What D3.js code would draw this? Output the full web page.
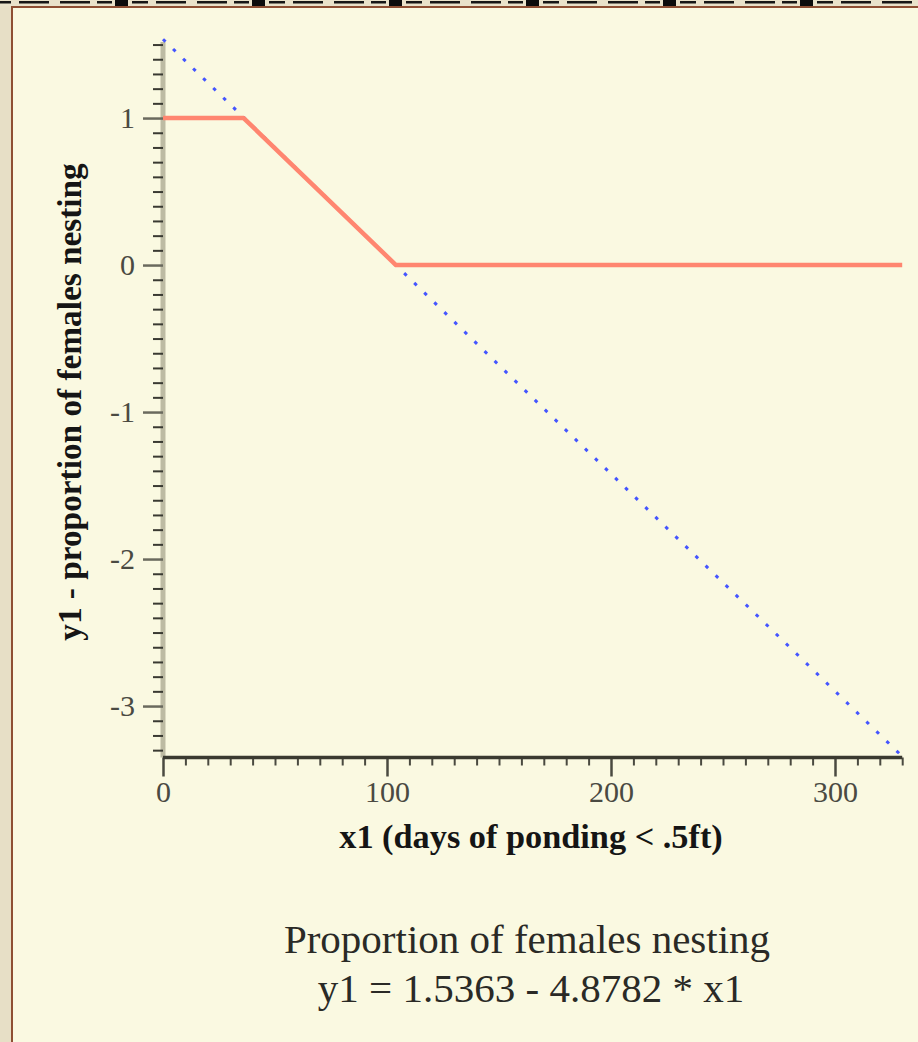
<!DOCTYPE html>
<html>
<head>
<meta charset="utf-8">
<script src="https://cdn.jsdelivr.net/npm/d3@7"></script>
<style>
  html, body { margin: 0; padding: 0; background: #FAF9E1; }
  svg { display: block; }
</style>
</head>
<body>
<svg id="chart" width="918" height="1042"></svg>
<script>
// ---- data ----
const xDomain = [0, 330];
const yDomain = [-3.35, 1.5363];
const xMajorTicks = [0, 100, 200, 300];
const yMajorTicks = [1, 0, -1, -2, -3];
const yTickLabels = ["1", "0", "-1", "-2", "-3"];
const xTickLabels = ["0", "100", "200", "300"];
// fitted linear model (blue dotted)
const lineX = [0, 330];
const lineY = [1.5363, -3.342];
// bounded proportion (red)
const boundX = [0, 36, 104, 330];
const boundY = [1, 1, 0, 0];
const xTitle = "x1 (days of ponding < .5ft)";
const yTitle = "y1 - proportion of females nesting";
const caption1 = "Proportion of females nesting";
const caption2 = "y1 = 1.5363 - 4.8782 * x1";

const svg = d3.select("#chart");
const W = 918, H = 1042;

// ---- page decoration ----
svg.append("rect").attr("x", 0).attr("y", 0).attr("width", W).attr("height", H).attr("fill", "#FAF9E1");
svg.append("rect").attr("x", 0).attr("y", 0).attr("width", 11).attr("height", H).attr("fill", "#E7DFC6");
svg.append("rect").attr("x", 0).attr("y", 0).attr("width", W).attr("height", 6).attr("fill", "#E9E2CA");
const deco = svg.append("g");
for (let b = -22; b < W; b += 137) {
  [[17, 33], [41, 71], [82, 112], [119, 134]].forEach(([a, e]) => {
    deco.append("rect").attr("x", b + a).attr("y", 1).attr("width", e - a).attr("height", 2.5).attr("fill", "#161616");
  });
  deco.append("rect").attr("x", b + 137).attr("y", 0).attr("width", 13).attr("height", 6.5).attr("fill", "#0c0c0c");
}
svg.append("rect").attr("x", 11).attr("y", 6).attr("width", W - 11).attr("height", 2).attr("fill", "#8E4F33");
svg.append("rect").attr("x", 11).attr("y", 6).attr("width", 2).attr("height", H - 6).attr("fill", "#8E4F33");

// ---- scales ----
const x = d3.scaleLinear().domain(xDomain).range([163, 902.2]);
const y = d3.scaleLinear().domain(yDomain).range([757.5, 757.5 - (yDomain[1] - yDomain[0]) * 147]);

const serif = "'Liberation Serif', 'Times New Roman', serif";

// ---- y axis ----
const yMinor = d3.range(-33, 16).map(d => d / 10).filter(v => !yMajorTicks.includes(v));
const yAxisMinor = d3.axisLeft(y).tickValues(yMinor).tickSize(10).tickFormat("");
const yAxisMajor = d3.axisLeft(y).tickValues(yMajorTicks).tickSize(20).tickPadding(8)
  .tickFormat((d, i) => yTickLabels[i]);

svg.append("rect").attr("x", 160.5).attr("y", 42).attr("width", 5).attr("height", 757.5 - 42)
  .attr("fill", "#BDBBA3");

const gyMin = svg.append("g").attr("transform", "translate(163,0)").call(yAxisMinor);
gyMin.select(".domain").remove();
gyMin.selectAll("line").attr("stroke", "#3a3a32").attr("stroke-width", 2);
const gyMaj = svg.append("g").attr("transform", "translate(163,0)").call(yAxisMajor);
gyMaj.select(".domain").remove();
gyMaj.selectAll("line").attr("stroke", "#6a6a5e").attr("stroke-width", 2.5);
gyMaj.selectAll("text").attr("font-family", serif).attr("font-size", 30).attr("fill", "#4a4a42");

// ---- x axis ----
const xMinor = d3.range(10, 331, 10).filter(v => !xMajorTicks.includes(v));
const xAxisMinor = d3.axisBottom(x).tickValues(xMinor).tickSize(8).tickFormat("");
const xAxisMajor = d3.axisBottom(x).tickValues(xMajorTicks).tickSize(19).tickPadding(4)
  .tickFormat((d, i) => xTickLabels[i]);
const gxMin = svg.append("g").attr("transform", "translate(0,757.5)").call(xAxisMinor);
gxMin.select(".domain").remove();
gxMin.selectAll("line").attr("stroke", "#4a4a40").attr("stroke-width", 2);
const gxMaj = svg.append("g").attr("transform", "translate(0,757.5)").call(xAxisMajor);
gxMaj.select(".domain").remove();
gxMaj.selectAll("line").attr("stroke", "#4a4a40").attr("stroke-width", 2.5);
gxMaj.selectAll("text").attr("font-family", serif).attr("font-size", 30).attr("fill", "#4a4a42");
svg.append("line").attr("x1", x(0)).attr("x2", x(330)).attr("y1", 757.5).attr("y2", 757.5)
  .attr("stroke", "#3a3a30").attr("stroke-width", 3.5);

// ---- data lines ----
const lineGen = d3.line().x(d => x(d[0])).y(d => y(d[1]));
svg.append("path").datum(lineX.map((v, i) => [v, lineY[i]]))
  .attr("d", lineGen).attr("fill", "none").attr("stroke", "#4455FF").attr("stroke-width", 3)
  .attr("stroke-dasharray", "3.5,10.5");
svg.append("path").datum(boundX.map((v, i) => [v, boundY[i]]))
  .attr("d", lineGen).attr("fill", "none").attr("stroke", "#FF8670").attr("stroke-width", 4.5)
  .attr("stroke-linejoin", "round");

// ---- titles ----
svg.append("text").attr("x", 531).attr("y", 848).attr("text-anchor", "middle")
  .attr("font-family", serif).attr("font-weight", "bold").attr("font-size", 34.3).attr("fill", "#151515")
  .text(xTitle);
svg.append("text").attr("transform", "translate(81,402) rotate(-90)").attr("text-anchor", "middle")
  .attr("font-family", serif).attr("font-weight", "bold").attr("font-size", 33.3).attr("fill", "#151515")
  .text(yTitle);

svg.append("text").attr("x", 527).attr("y", 953).attr("text-anchor", "middle")
  .attr("font-family", serif).attr("font-size", 41).attr("fill", "#2a2a26").text(caption1);
svg.append("text").attr("x", 531).attr("y", 1002).attr("text-anchor", "middle")
  .attr("font-family", serif).attr("font-size", 41).attr("fill", "#2a2a26").text(caption2);
</script>
</body>
</html>
